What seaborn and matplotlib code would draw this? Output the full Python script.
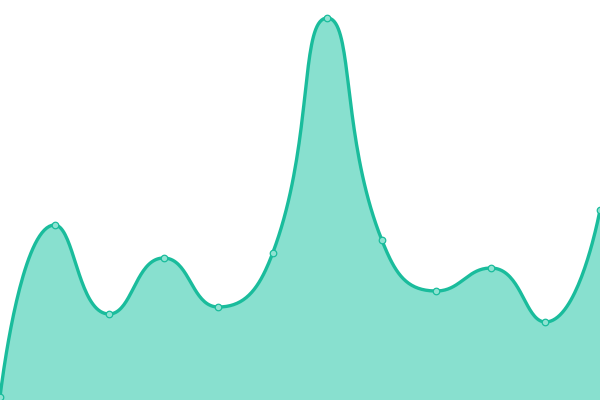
import numpy as np
import pandas as pd
import matplotlib
matplotlib.use("Agg")
import matplotlib.pyplot as plt
import seaborn as sns

# values (hidden y axis, 0..400)
positions = list(range(12))
values = [3, 175, 86, 142, 93, 147, 382, 160, 109, 132, 78, 190]

LINE = "#1abc9c"
FILL = "#88e0cf"
X_SCALE = 54.5  # pixel spacing, used so smoothing works in screen space


def smooth_path(xs, ys, smooth=0.5, steps=40):
    """Bezier smoothing of a polyline, in the style of echarts smooth lines."""
    px = np.asarray(xs, float) * X_SCALE
    py = np.asarray(ys, float)
    n = len(px)
    cp_out = [(px[0], py[0])]
    cp_in = [None]
    for i in range(1, n - 1):
        x, y = px[i], py[i]
        dx, dy = px[i + 1] - px[i - 1], py[i + 1] - py[i - 1]
        l0 = np.hypot(x - px[i - 1], y - py[i - 1])
        l1 = np.hypot(px[i + 1] - x, py[i + 1] - y)
        r = l1 / (l0 + l1)
        c1x, c1y = x + dx * smooth * r, y + dy * smooth * r
        c1x = np.clip(c1x, min(x, px[i + 1]), max(x, px[i + 1]))
        c1y = np.clip(c1y, min(y, py[i + 1]), max(y, py[i + 1]))
        ddx, ddy = c1x - x, c1y - y
        c0x, c0y = x - ddx * l0 / l1, y - ddy * l0 / l1
        c0x = np.clip(c0x, min(x, px[i - 1]), max(x, px[i - 1]))
        c0y = np.clip(c0y, min(y, py[i - 1]), max(y, py[i - 1]))
        ddx, ddy = x - c0x, y - c0y
        c1x, c1y = x + ddx * l1 / l0, y + ddy * l1 / l0
        cp_in.append((c0x, c0y))
        cp_out.append((c1x, c1y))
    cp_in.append((px[-1], py[-1]))
    t = np.linspace(0, 1, steps)[:, None]
    pts = []
    for i in range(n - 1):
        p0 = np.array([px[i], py[i]])
        p1 = np.array(cp_out[i])
        p2 = np.array(cp_in[i + 1])
        p3 = np.array([px[i + 1], py[i + 1]])
        seg = ((1 - t) ** 3) * p0 + 3 * ((1 - t) ** 2) * t * p1 + 3 * (1 - t) * t ** 2 * p2 + t ** 3 * p3
        pts.append(seg if i == 0 else seg[1:])
    pts = np.vstack(pts)
    return pts[:, 0] / X_SCALE, pts[:, 1]


df = pd.DataFrame({"x": positions, "y": values})
sx, sy = smooth_path(df["x"], df["y"])

sns.set_style("white")
fig = plt.figure(figsize=(6, 4), dpi=100)
ax = fig.add_axes([0, 0, 1, 1])

ax.fill_between(sx, sy, 0, color=FILL, linewidth=0)
ax.plot(sx, sy, color=LINE, linewidth=2.4, solid_capstyle="round")
sns.scatterplot(data=df, x="x", y="y", ax=ax, s=22, color="#8fe3d2",
                edgecolor=LINE, linewidth=0.9, zorder=5, clip_on=False)

ax.set_xlim(0, 11)
ax.set_ylim(0, 400)
ax.axis("off")
fig.savefig("out.png", dpi=100)
